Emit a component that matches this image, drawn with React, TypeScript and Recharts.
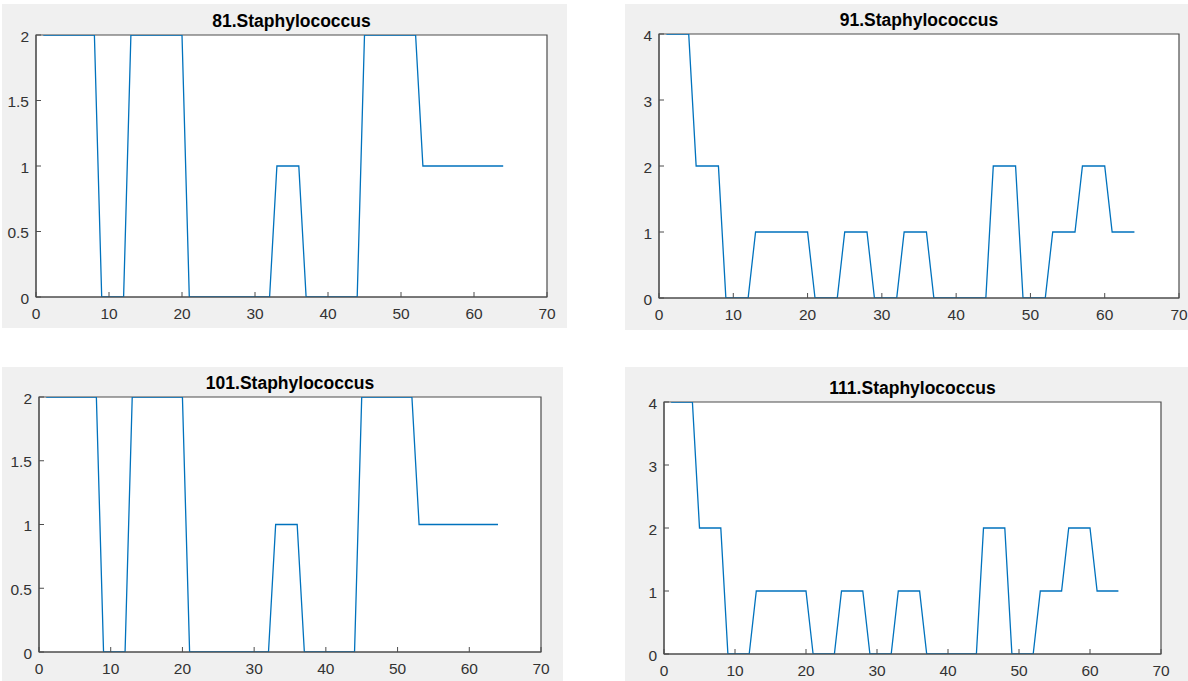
import React from 'react';
import { LineChart, Line, XAxis, YAxis, CartesianGrid, ReferenceArea } from 'recharts';

// ---------- data ----------
const titles = ['81.Staphylococcus', '91.Staphylococcus', '101.Staphylococcus', '111.Staphylococcus'];

const xTicks = [0, 10, 20, 30, 40, 50, 60, 70];
const yTicksHalf = [0, 0.5, 1, 1.5, 2];
const yTicksUnit = [0, 1, 2, 3, 4];

const values81 = [
  2, 2, 2, 2, 2, 2, 2, 2,
  0, 0, 0, 0,
  2, 2, 2, 2, 2, 2, 2, 2,
  0, 0, 0, 0, 0, 0, 0, 0, 0, 0, 0, 0,
  1, 1, 1, 1,
  0, 0, 0, 0, 0, 0, 0, 0,
  2, 2, 2, 2, 2, 2, 2, 2,
  1, 1, 1, 1, 1, 1, 1, 1, 1, 1, 1, 1,
];

const values91 = [
  4, 4, 4, 4,
  2, 2, 2, 2,
  0, 0, 0, 0,
  1, 1, 1, 1, 1, 1, 1, 1,
  0, 0, 0, 0,
  1, 1, 1, 1,
  0, 0, 0, 0,
  1, 1, 1, 1,
  0, 0, 0, 0, 0, 0, 0, 0,
  2, 2, 2, 2,
  0, 0, 0, 0,
  1, 1, 1, 1,
  2, 2, 2, 2,
  1, 1, 1, 1,
];

const values101 = [
  2, 2, 2, 2, 2, 2, 2, 2,
  0, 0, 0, 0,
  2, 2, 2, 2, 2, 2, 2, 2,
  0, 0, 0, 0, 0, 0, 0, 0, 0, 0, 0, 0,
  1, 1, 1, 1,
  0, 0, 0, 0, 0, 0, 0, 0,
  2, 2, 2, 2, 2, 2, 2, 2,
  1, 1, 1, 1, 1, 1, 1, 1, 1, 1, 1, 1,
];

const values111 = [
  4, 4, 4, 4,
  2, 2, 2, 2,
  0, 0, 0, 0,
  1, 1, 1, 1, 1, 1, 1, 1,
  0, 0, 0, 0,
  1, 1, 1, 1,
  0, 0, 0, 0,
  1, 1, 1, 1,
  0, 0, 0, 0, 0, 0, 0, 0,
  2, 2, 2, 2,
  0, 0, 0, 0,
  1, 1, 1, 1,
  2, 2, 2, 2,
  1, 1, 1, 1,
];

// ---------- style ----------
const FONT = '"Liberation Sans", Arial, Helvetica, sans-serif';
const AXIS = '#4d4d4d';
const TICK_TEXT = '#333333';
const LINE = '#0072BD';
const TICK_LEN = 5;
const TICK_FONT = 15.5;

const toRows = (vals: number[]) => vals.map((v, i) => ({ x: i + 1, y: v }));

// layout: gray box (gx, gy, gw, gh) and plot rect inside it (absolute page coords)
const panels = [
  { title: titles[0], vals: values81, yTicks: yTicksHalf, yMax: 2, g: [2, 4, 565, 324], p: [36, 35, 547, 297] },
  { title: titles[1], vals: values91, yTicks: yTicksUnit, yMax: 4, g: [625, 4, 563, 326], p: [659, 34, 1179, 298] },
  { title: titles[2], vals: values101, yTicks: yTicksHalf, yMax: 2, g: [2, 367, 561, 314], p: [39, 397, 541, 652] },
  { title: titles[3], vals: values111, yTicks: yTicksUnit, yMax: 4, g: [625, 367, 563, 314], p: [664, 402, 1161, 654] },
];

const LeftTick = (props: any) => {
  const { x, y, payload } = props;
  return (
    <g>
      <line x1={x} x2={x + TICK_LEN} y1={y} y2={y} stroke={AXIS} strokeWidth={1} />
      <text x={x - 7} y={y + 6.5} textAnchor="end" fontSize={TICK_FONT} fill={TICK_TEXT} fontFamily={FONT}>
        {payload.value}
      </text>
    </g>
  );
};

const RightTick = (props: any) => {
  const { x, y } = props;
  return <line x1={x - TICK_LEN} x2={x} y1={y} y2={y} stroke={AXIS} strokeWidth={1} />;
};

const BottomTick = (props: any) => {
  const { x, y, payload } = props;
  return (
    <g>
      <line x1={x} x2={x} y1={y} y2={y - TICK_LEN} stroke={AXIS} strokeWidth={1} />
      <text x={x} y={y + 22} textAnchor="middle" fontSize={TICK_FONT} fill={TICK_TEXT} fontFamily={FONT}>
        {payload.value}
      </text>
    </g>
  );
};

const TopTick = (props: any) => {
  const { x, y } = props;
  return <line x1={x} x2={x} y1={y} y2={y + TICK_LEN} stroke={AXIS} strokeWidth={1} />;
};

const Panel = ({ panel }: { panel: (typeof panels)[number] }) => {
  const [gx, gy, gw, gh] = panel.g;
  const [px1, py1, px2, py2] = panel.p;
  const left = px1 - gx;
  const top = py1 - gy;
  const right = gx + gw - px2;
  const bottom = gy + gh - py2;
  const plotW = px2 - px1;
  const axisLine = { stroke: AXIS, strokeWidth: 1 };
  return (
    <div style={{ position: 'absolute', left: gx, top: gy, width: gw, height: gh, background: '#f0f0f0' }}>
      <div
        style={{
          position: 'absolute',
          left: left,
          width: plotW,
          top: top - 25,
          height: 22,
          lineHeight: '22px',
          textAlign: 'center',
          fontFamily: FONT,
          fontWeight: 'bold',
          fontSize: 17.5,
          color: '#000',
          whiteSpace: 'nowrap',
        }}
      >
        {panel.title}
      </div>
      <div style={{ position: 'absolute', left: 0, top: 0 }}>
        <LineChart width={gw} height={gh} data={toRows(panel.vals)} margin={{ top: top, right: right, bottom: 0, left: 0 }}>
          <CartesianGrid horizontal={false} vertical={false} fill="#ffffff" stroke="none" />
          <XAxis
            xAxisId="b"
            dataKey="x"
            type="number"
            domain={[0, 70]}
            ticks={xTicks}
            interval={0}
            allowDataOverflow
            height={bottom}
            tickSize={0}
            tickMargin={0}
            tickLine={false}
            axisLine={axisLine}
            tick={<BottomTick />}
          />
          <XAxis
            xAxisId="t"
            orientation="top"
            type="number"
            domain={[0, 70]}
            ticks={xTicks}
            interval={0}
            allowDataOverflow
            height={0}
            tickSize={0}
            tickMargin={0}
            tickLine={false}
            axisLine={axisLine}
            tick={<TopTick />}
          />
          <YAxis
            yAxisId="l"
            type="number"
            domain={[0, panel.yMax]}
            ticks={panel.yTicks}
            interval={0}
            allowDataOverflow
            width={left}
            tickSize={0}
            tickMargin={0}
            tickLine={false}
            axisLine={axisLine}
            tick={<LeftTick />}
          />
          <YAxis
            yAxisId="r"
            orientation="right"
            type="number"
            domain={[0, panel.yMax]}
            ticks={panel.yTicks}
            interval={0}
            allowDataOverflow
            width={0}
            tickSize={0}
            tickMargin={0}
            tickLine={false}
            axisLine={axisLine}
            tick={<RightTick />}
          />
          <ReferenceArea
            xAxisId="b"
            yAxisId="l"
            x1={0}
            x2={70}
            y1={0}
            y2={panel.yMax}
            stroke={AXIS}
            strokeWidth={1.2}
            fill="none"
            fillOpacity={0}
            ifOverflow="visible"
          />
          <Line
            xAxisId="b"
            yAxisId="l"
            type="linear"
            dataKey="y"
            stroke={LINE}
            strokeWidth={1.3}
            dot={false}
            activeDot={false}
            isAnimationActive={false}
          />
        </LineChart>
      </div>
    </div>
  );
}

export default function App() {
  return (
    <div style={{ position: 'absolute', left: 0, top: 0, width: 1188, height: 681, background: '#ffffff', overflow: 'hidden' }}>
      {panels.map((p) => (
        <Panel key={p.title} panel={p} />
      ))}
    </div>
  );
}
